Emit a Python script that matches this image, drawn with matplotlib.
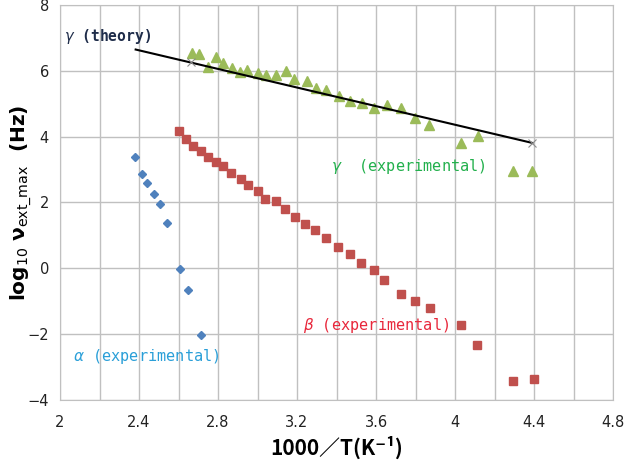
import matplotlib
matplotlib.use("Agg")
import matplotlib.pyplot as plt
from matplotlib.ticker import MultipleLocator

plt.rcParams['font.family'] = ['DejaVu Sans', 'Noto Sans CJK JP']

# alpha relaxation (experimental)
alpha_x = [2.38, 2.417, 2.442, 2.477, 2.506, 2.542, 2.608, 2.65, 2.714]
alpha_y = [3.37, 2.88, 2.59, 2.26, 1.94, 1.38, -0.02, -0.65, -2.04]

# beta relaxation (experimental)
beta_x = [2.60, 2.638, 2.672, 2.712, 2.748, 2.79, 2.825, 2.867, 2.915, 2.953,
          3.0, 3.04, 3.095, 3.139, 3.188, 3.24, 3.293, 3.348, 3.406, 3.468,
          3.526, 3.592, 3.642, 3.727, 3.797, 3.873, 4.029, 4.11, 4.292, 4.398]
beta_y = [4.16, 3.94, 3.73, 3.57, 3.39, 3.22, 3.10, 2.90, 2.71, 2.52,
          2.35, 2.12, 2.03, 1.79, 1.56, 1.36, 1.16, 0.92, 0.65, 0.43,
          0.17, -0.06, -0.37, -0.77, -1.0, -1.21, -1.73, -2.34, -3.43, -3.37]

# gamma relaxation (experimental)
gamma_x = [2.668, 2.704, 2.749, 2.79, 2.827, 2.869, 2.91, 2.948, 3.0, 3.045,
           3.095, 3.143, 3.186, 3.249, 3.296, 3.347, 3.41, 3.468, 3.531, 3.59,
           3.657, 3.725, 3.799, 3.867, 4.029, 4.117, 4.295, 4.391]
gamma_y = [6.53, 6.50, 6.12, 6.41, 6.23, 6.10, 5.98, 6.02, 5.93, 5.88,
           5.89, 6.0, 5.76, 5.68, 5.49, 5.42, 5.24, 5.09, 5.01, 4.86,
           4.95, 4.88, 4.56, 4.35, 3.80, 4.03, 2.96, 2.96]

# gamma (theory)
theory_x = [2.383, 4.391]
theory_y = [6.65, 3.81]
theory_mark_x = [2.665, 4.391]
theory_mark_y = [6.27, 3.81]

fig = plt.figure(figsize=(6.25, 4.66), dpi=100)
ax = fig.add_axes([0.096, 0.142, 0.885, 0.847])

ax.plot(theory_x, theory_y, color='black', lw=1.5, zorder=3)
ax.plot(theory_mark_x, theory_mark_y, ls='none', marker='x', color='#8c8c8c',
        markersize=6, mew=0.8, zorder=4)
ax.plot(gamma_x, gamma_y, ls='none', marker='^', color='#9bbb59',
        markersize=7.5, zorder=2)
ax.plot(beta_x, beta_y, ls='none', marker='s', color='#c0504d',
        markersize=6, zorder=2)
ax.plot(alpha_x, alpha_y, ls='none', marker='D', color='#4f81bd',
        markersize=4.5, zorder=2)

ax.set_xlim(2, 4.8)
ax.set_ylim(-4, 8)
ax.xaxis.set_major_locator(MultipleLocator(0.4))
ax.xaxis.set_minor_locator(MultipleLocator(0.2))
ax.yaxis.set_major_locator(MultipleLocator(2))
ax.set_xticklabels([f"{v:g}" for v in ax.get_xticks()])
ax.grid(True, which='both', color='#c0c0c0', lw=1)
ax.set_axisbelow(True)
ax.tick_params(which='both', length=0, labelsize=10.5, colors='#222222')
ax.tick_params(axis='x', pad=11)
ax.tick_params(axis='y', pad=8)
for s in ax.spines.values():
    s.set_color('#c0c0c0')

ax.set_xlabel("1000／T(K⁻¹)", fontsize=15, fontweight='bold',
              family=['Noto Sans CJK JP', 'DejaVu Sans'], va='center')
ax.xaxis.set_label_coords(0.5, -0.121)
ax.set_ylabel(r"$\mathbf{log}_{10}\ \mathbf{\nu}_{\mathrm{ext\_max}}$  (Hz)",
              fontsize=14.5, fontweight='bold', va='center')
ax.yaxis.set_label_coords(-0.069, 0.5)

mono = 'DejaVu Sans Mono'
ax.text(2.02, 7.05, r"$\gamma$ (theory)", color='#1f2d4a', fontsize=10.5,
        family=mono, fontweight='bold', va='center')
ax.text(3.37, 3.08, r"$\gamma$  (experimental)", color='#22b04c', fontsize=11,
        family=mono, va='center')
ax.text(3.23, -1.73, r"$\beta$ (experimental)", color='#e8283c', fontsize=11,
        family=mono, va='center')
ax.text(2.066, -2.67, r"$\alpha$ (experimental)", color='#2a9fd8', fontsize=11,
        family=mono, va='center')

fig.savefig("out.png", dpi=100)
